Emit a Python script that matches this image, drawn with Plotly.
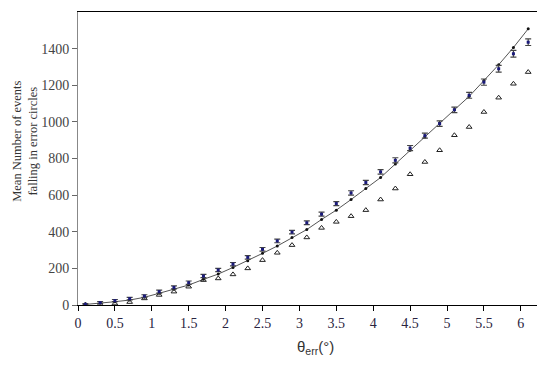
import plotly.graph_objects as go

theta = [0.1, 0.3, 0.5, 0.7, 0.9, 1.1, 1.3, 1.5, 1.7, 1.9, 2.1, 2.3, 2.5, 2.7, 2.9,
         3.1, 3.3, 3.5, 3.7, 3.9, 4.1, 4.3, 4.5, 4.7, 4.9, 5.1, 5.3, 5.5, 5.7, 5.9, 6.1]

expected = [3, 9, 18, 27, 42, 64, 86, 109, 140, 169, 205, 242, 282, 322, 369,
            412, 467, 518, 576, 636, 696, 770, 845, 917, 994, 1066, 1139, 1226, 1312, 1406, 1508]

measured = [4, 13, 24, 35, 49, 73, 96, 122, 158, 191, 223, 260, 304, 350, 398,
            449, 496, 554, 612, 669, 727, 790, 857, 925, 990, 1066, 1145, 1217, 1290, 1372, 1435]

measured_err = [4, 5, 6, 7, 7, 8, 8, 9, 9, 9, 9, 10, 10, 10, 10,
                10, 11, 11, 12, 12, 12, 14, 14, 14, 15, 15, 16, 17, 18, 18, 18]

triangles = [2, 4, 8, 16, 36, 55, 73, 100, 136, 145, 167, 200, 245, 285, 327,
             369, 421, 454, 485, 518, 576, 636, 714, 781, 845, 927, 972, 1054, 1132, 1208, 1272]

y_ticks = [0, 200, 400, 600, 800, 1000, 1200, 1400]

serif = "Liberation Serif, Times New Roman, serif"

fig = go.Figure()

fig.add_trace(go.Scatter(
    x=theta, y=expected, mode="lines+markers",
    line=dict(color="#555555", width=1),
    marker=dict(symbol="circle", size=3, color="#111111"),
    showlegend=False,
))

fig.add_trace(go.Scatter(
    x=theta, y=triangles, mode="markers",
    marker=dict(symbol="triangle-up-open", size=5, color="#222222", line=dict(width=1)),
    showlegend=False,
))

fig.add_trace(go.Scatter(
    x=theta, y=measured, mode="markers",
    marker=dict(symbol="square", size=3, color="#1a1a7a"),
    error_y=dict(type="data", array=measured_err, visible=True,
                 color="#444444", thickness=1.2, width=3),
    showlegend=False,
))

fig.add_shape(type="line", xref="paper", yref="paper", x0=1, x1=1, y0=0, y1=1,
              line=dict(color="black", width=1.5))

fig.add_annotation(
    text="Mean Number of events<br>falling in error circles",
    xref="paper", yref="paper", x=-0.115, y=0.56, textangle=-90,
    showarrow=False, xanchor="center", yanchor="middle",
    font=dict(family=serif, size=12.5, color="#333333"),
)

fig.add_annotation(
    text="θ<sub>err</sub>(°)",
    xref="paper", yref="paper", x=0.515, y=-0.145,
    showarrow=False, xanchor="center", yanchor="middle",
    font=dict(family="Liberation Sans, Arial, sans-serif", size=15, color="#333333"),
)

# the page body has an 8px default margin, so the figure is sized to fit the window
fig.update_layout(
    width=537, height=373,
    margin=dict(l=70, r=5, t=4, b=76, autoexpand=False),
    paper_bgcolor="white", plot_bgcolor="white",
    font=dict(family=serif, size=13, color="#333333"),
    xaxis=dict(
        range=[0, 6.26], tick0=0, dtick=0.5, automargin=False,
        showgrid=False, zeroline=False,
        showline=True, linecolor="black", linewidth=1.2, mirror=True,
        ticks="outside", ticklen=5, tickcolor="black",
        tickfont=dict(family=serif, size=14, color="#2a2440"),
    ),
    yaxis=dict(
        range=[0, 1600], tickvals=y_ticks, automargin=False,
        showgrid=False, zeroline=False,
        showline=True, linecolor="#888888", linewidth=1,
        ticks="outside", ticklen=5, tickcolor="#666666",
        tickfont=dict(family=serif, size=14, color="#444444"),
    ),
)

fig.write_html("out.html")
